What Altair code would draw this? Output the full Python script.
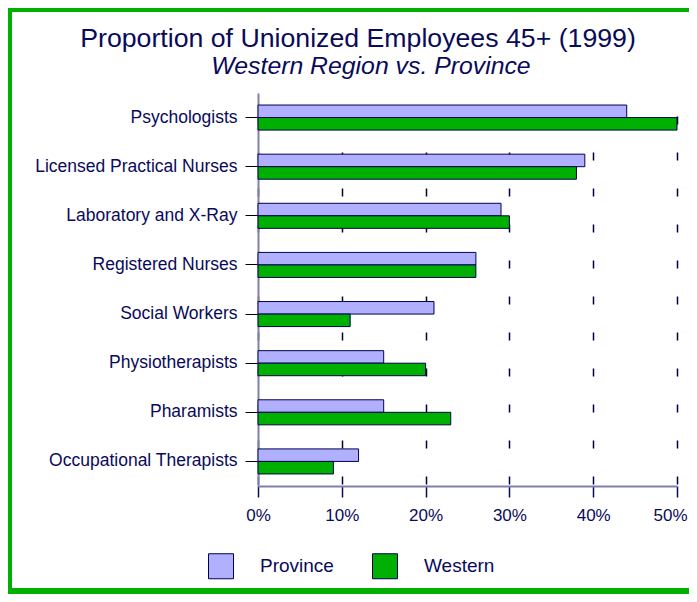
import altair as alt
import pandas as pd

categories = ["Psychologists", "Licensed Practical Nurses", "Laboratory and X-Ray",
              "Registered Nurses", "Social Workers", "Physiotherapists",
              "Pharamists", "Occupational Therapists"]
province = [44, 39, 29, 26, 21, 15, 15, 12]
western = [50, 38, 30, 26, 11, 20, 23, 9]
series_names = ["Province", "Western"]
series_colors = ["#b0b0ff", "#00b000"]
x_ticks = [0, 10, 20, 30, 40, 50]
title_text = "Proportion of Unionized Employees 45+ (1999)"
subtitle_text = "Western Region vs. Province"

rows = []
for c, p, w in zip(categories, province, western):
    rows.append({"job": c, "series": "Province", "value": p})
    rows.append({"job": c, "series": "Western", "value": w})
df = pd.DataFrame(rows)

NAVY = "#0a0a5a"
FONT = "Liberation Sans"
one = pd.DataFrame({"k": [0]})

border = alt.Chart(one).mark_rect(fill="white", fillOpacity=0, stroke="#00b000", strokeWidth=6).encode(
    x=alt.value(-249), x2=alt.value(470), y=alt.value(-84), y2=alt.value(498)
)

title = alt.Chart(one).mark_text(text=title_text, font=FONT, fontSize=26.7, color=NAVY,
                                 align="center", baseline="alphabetic").encode(
    x=alt.value(100), y=alt.value(-46)
)
subtitle = alt.Chart(one).mark_text(text=subtitle_text, font=FONT, fontSize=24.8, fontStyle="italic",
                                    color=NAVY, align="center", baseline="alphabetic").encode(
    x=alt.value(113), y=alt.value(-19)
)

bars = alt.Chart(df).mark_bar(stroke="#000050", strokeWidth=1).encode(
    y=alt.Y("job:N", sort=categories,
            scale=alt.Scale(paddingInner=0.49, paddingOuter=0.245),
            axis=alt.Axis(title=None, labelFontSize=17.5, labelFont=FONT, labelColor=NAVY,
                          tickColor="#000000", tickSize=13, labelPadding=8,
                          domainColor="#8080b0", domainWidth=2, labelLimit=300)),
    yOffset=alt.YOffset("series:N", sort=series_names),
    x=alt.X("value:Q", scale=alt.Scale(domain=[0, 50], nice=False),
            axis=alt.Axis(values=x_ticks, labelExpr="datum.value + '%'", title=None,
                          labelFlush=False,
                          labelOffset={"condition": {"test": "datum.value === 50", "value": -7}, "value": 0},
                          grid=True, gridColor="#000040", gridWidth=1.5, gridDash=[8, 28],
                          gridDashOffset=34,
                          tickSize=11, tickColor=NAVY, tickWidth=1.5, labelPadding=10,
                          domainColor="#8080b0", domainWidth=2,
                          labelFontSize=17, labelFont=FONT, labelColor=NAVY)),
    color=alt.Color("series:N", scale=alt.Scale(domain=series_names, range=series_colors),
                    legend=alt.Legend(title=None, orient="none", legendX=-50, legendY=460,
                                      direction="horizontal", symbolType="square",
                                      symbolSize=625, symbolStrokeColor="#000050",
                                      symbolStrokeWidth=1, symbolOpacity=1,
                                      labelFontSize=19, labelFont=FONT, labelColor=NAVY,
                                      labelOffset=26, columnPadding=36)),
)

chart = alt.layer(border, title, subtitle, bars).properties(
    width=419, height=393,
    padding={"left": 250, "top": 85, "right": 12, "bottom": 108},
    autosize=alt.AutoSizeParams(type="none"),
    background="white",
).configure_view(stroke=None)

chart.save("out.html", embed_options={"renderer": "svg", "actions": False})
